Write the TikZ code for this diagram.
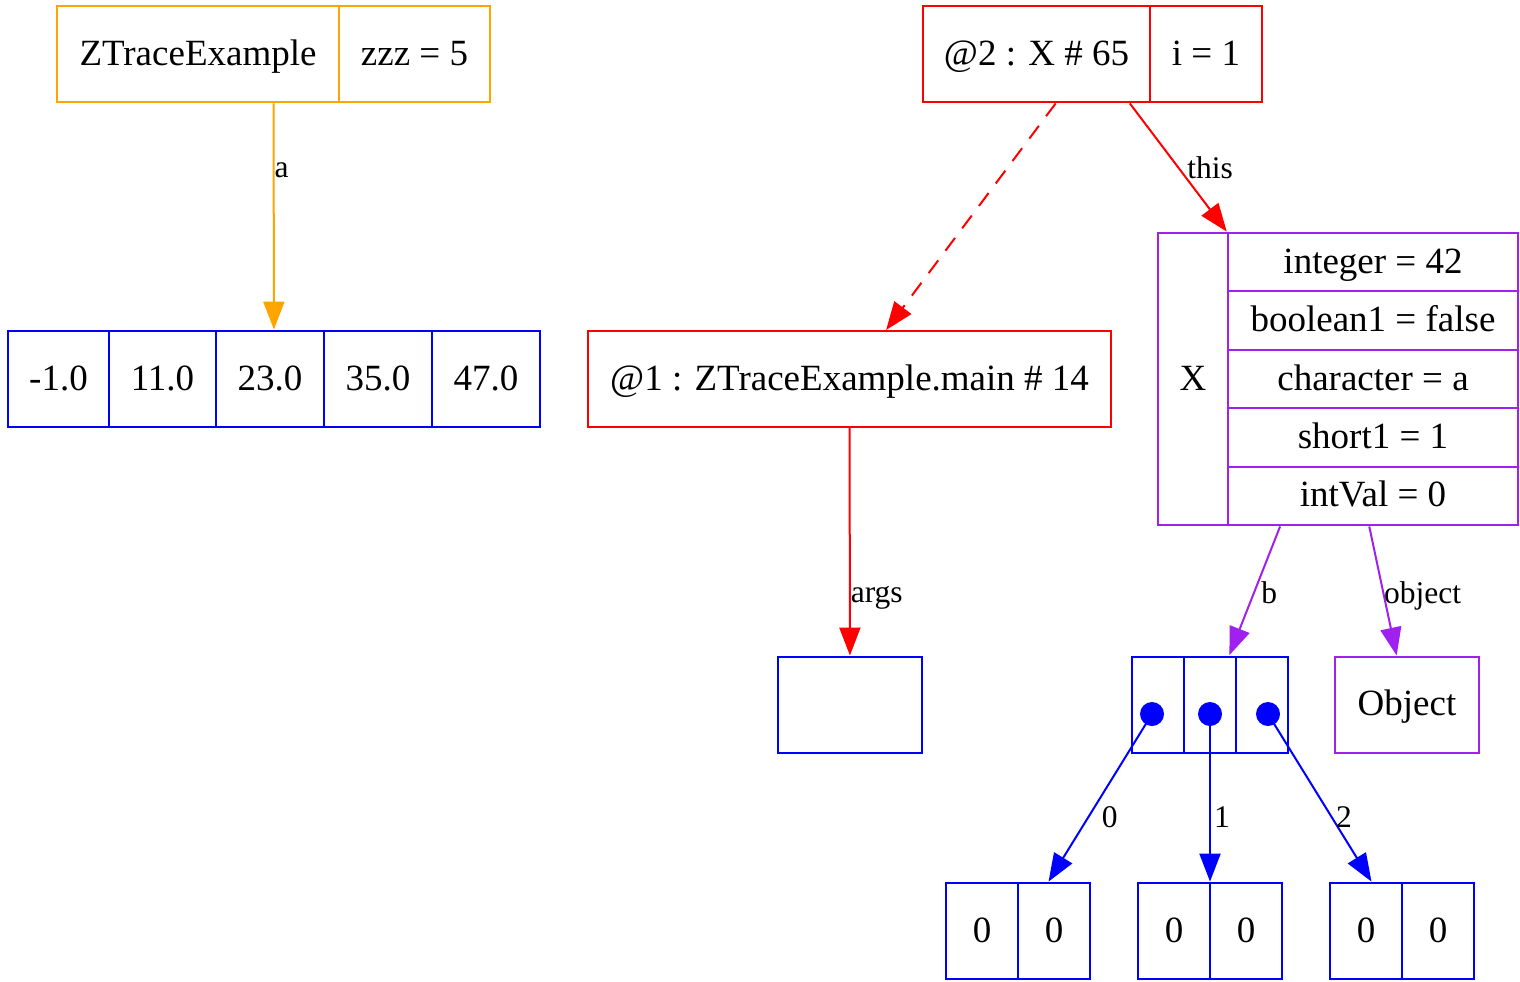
\documentclass[tikz,border=0pt]{standalone}
\usepackage{fontspec}
\setmainfont{Liberation Serif}
\usetikzlibrary{fit,arrows.meta}

\definecolor{gvorange}{RGB}{255,165,0}
\definecolor{gvpurple}{RGB}{160,32,240}

\newcommand{\cellfont}{\fontsize{18.5}{22}\selectfont}
\newcommand{\labelfont}{\fontsize{15.75}{18}\selectfont}

\def\doubleCells{{(58.5,379)/50.5/da/-1.0}, {(162.5,379)/53.5/db/11.0}, {(270,379)/54/dc/23.0}, {(378,379)/54/dd/35.0}, {(486,379)/54/de/47.0}}
\def\fieldCells{{262.2/fa/integer = 42}, {320.6/fb/boolean1 = false}, {379/fc/character = a}, {437.4/fd/short1 = 1}, {495.8/fe/intVal = 0}}
\def\slotCells{{(1158,704.5)/sa}, {(1210,704.5)/sb}, {(1262,704.5)/sc}}
\def\slotDots{{(1152,714)/pa}, {(1210,714)/pb}, {(1268,714)/pc}}
\def\zeroCells{{(982,931)/ka}, {(1054,931)/kb}, {(1174,931)/la}, {(1246,931)/lb}, {(1366,931)/ma}, {(1438,931)/mb}}

\tikzstyle{cell}=[draw, line width=1pt, inner sep=0pt, minimum height=48pt, text=black, font=\cellfont, text height=15pt, text depth=4pt]
\tikzstyle{record}=[inner sep=0pt]
\tikzstyle{ref}=[draw, line width=1pt, -{Triangle[length=14pt,width=10.5pt]}]
\tikzstyle{ref label}=[font=\labelfont, text=black, inner sep=0pt, anchor=west, text height=14pt, text depth=3pt]
\tikzstyle{slot dot}=[circle, fill=blue, minimum size=12pt, inner sep=0pt]

\begin{document}
\begin{tikzpicture}[x=0.5pt, y=-0.5pt]
  \useasboundingbox (0,0) rectangle (1520,981);

  % The class record and its static field
  \node[cell, draw=gvorange, minimum width=141pt] (zname) at (198,54) {ZTraceExample};
  \node[cell, draw=gvorange, minimum width=75.5pt] (zzz) at (414.5,54) {zzz = 5};
  \node[record, fit=(zname)(zzz)] (zclass) {};

  % The double array
  \foreach \pos/\w/\name/\txt in \doubleCells {
    \node[cell, draw=blue, minimum width=\w pt] (\name) at \pos {\txt};
    }
  \node[record, fit=(da)(de)] (darr) {};

  % The two frames
  \node[cell, draw=red, minimum width=113.5pt] (fname) at (1036.5,54) {@2 : X \# 65};
  \node[cell, draw=red, minimum width=56pt] (fvar) at (1206,54) {i = 1};
  \node[record, fit=(fname)(fvar)] (frame2) {};
  \node[cell, draw=red, minimum width=261.5pt] (frame1) at (849.5,379) {@1 : ZTraceExample.main \# 14};

  % The X object with its fields
  \node[cell, draw=gvpurple, minimum width=35pt, minimum height=146pt] (xname) at (1193,379) {X};
  \foreach \y/\name/\txt in \fieldCells {
    \node[cell, draw=gvpurple, minimum width=145pt, minimum height=29.2pt] (\name) at (1373,\y) {\txt};
    }
  \node[record, fit=(xname)(fa)(fe)] (xobj) {};

  % The empty args array
  \node[cell, draw=blue, minimum width=72pt] (args) at (850,704.5) {};

  % The array b and the Object
  \foreach \pos/\name in \slotCells {
    \node[cell, draw=blue, minimum width=26pt] (\name) at \pos {};
    }
  \node[record, fit=(sa)(sc)] (barr) {};
  \foreach \pos/\name in \slotDots {
    \node[slot dot] (\name) at \pos {};
    }
  \node[cell, draw=gvpurple, minimum width=72pt] (object) at (1407,704.5) {Object};

  % The inner arrays
  \foreach \pos/\name in \zeroCells {
    \node[cell, draw=blue, minimum width=36pt] (\name) at \pos {0};
    }
  \node[record, fit=(ka)(kb)] (zeroA) {};
  \node[record, fit=(la)(lb)] (zeroB) {};
  \node[record, fit=(ma)(mb)] (zeroC) {};

  % References
  \path[ref, gvorange] (zclass) -- node[ref label, pos=0.28] {a} (darr);
  \path[ref, red, dash pattern=on 8pt off 6pt] (frame2) -- (frame1);
  \path[ref, red] (frame2) -- node[ref label, pos=0.5, xshift=4pt] {this} (xobj);
  \path[ref, red] (frame1) -- node[ref label, pos=0.72] {args} (args);
  \path[ref, gvpurple] (xobj) -- node[ref label, pos=0.51, xshift=3pt] {b} (barr);
  \path[ref, gvpurple] (xobj) -- node[ref label, pos=0.51] {object} (object);
  \path[ref, blue] (pa.center) -- node[ref label, pos=0.61, xshift=6pt] {0} (zeroA);
  \path[ref, blue] (pb.center) -- node[ref label, pos=0.61, xshift=1.5pt] {1} (zeroB);
  \path[ref, blue] (pc.center) -- node[ref label, pos=0.61, xshift=2pt] {2} (zeroC);
\end{tikzpicture}
\end{document}
